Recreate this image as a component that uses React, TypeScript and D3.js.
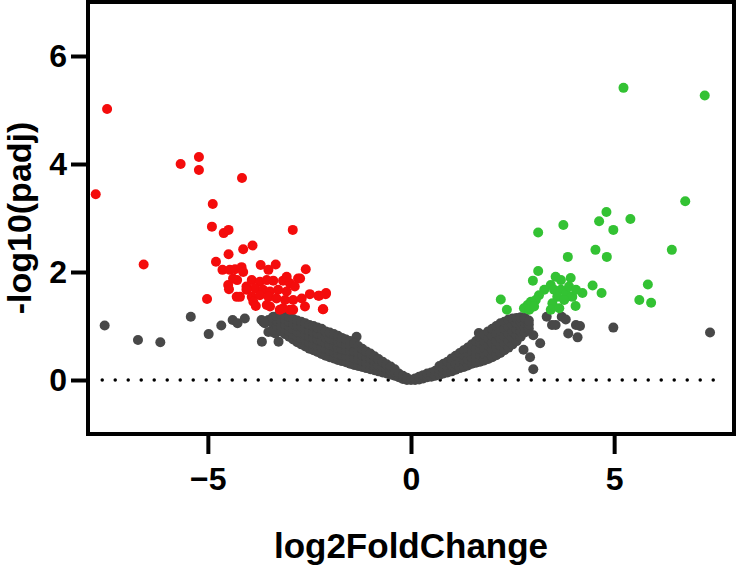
import React, { useRef, useEffect } from "react";
import { select, scaleLinear, axisBottom, axisLeft } from "d3";

// axis ticks and titles
const xTicks = [-5, 0, 5];
const yTicks = [0, 2, 4, 6];
const xTitle = "log2FoldChange";
const yTitle = "-log10(padj)";

// significantly down-regulated genes (red)
const downGenes = [
  [-7.76, 3.44], [-7.48, 5.02], [-6.58, 2.14], [-5.67, 4.0], [-5.22, 4.13], [-5.22, 3.89],
  [-4.16, 3.74], [-4.88, 3.26], [-4.9, 2.84], [-4.61, 2.72], [-4.49, 2.78], [-2.91, 2.78],
  [-3.9, 2.49], [-4.13, 2.42], [-4.49, 2.33], [-4.8, 2.19], [-2.59, 2.05], [-5.02, 1.5],
  [-2.17, 1.31], [-2.09, 1.61], [-2.26, 1.56],
  [-4.64, 2.04], [-4.46, 2.04], [-4.33, 2.05], [-4.17, 2.09], [-4.13, 2.0],
  [-3.7, 2.13], [-3.51, 2.04], [-3.33, 2.14],
  [-4.28, 1.85], [-4.5, 1.76], [-4.48, 1.68], [-4.38, 1.88], [-4.29, 1.54],
  [-3.92, 1.85], [-3.72, 1.82], [-3.55, 1.85], [-3.39, 1.84], [-3.15, 1.84], [-2.98, 1.79], [-2.78, 1.88],
  [-3.06, 1.91], [-2.73, 1.88],
  [-4.05, 1.73], [-3.84, 1.7], [-3.64, 1.67], [-3.47, 1.64], [-3.27, 1.67], [-3.06, 1.64], [-2.86, 1.73],
  [-4.05, 1.67],
  [-4.21, 1.54], [-3.92, 1.54], [-3.72, 1.57], [-3.51, 1.54], [-3.31, 1.51], [-3.1, 1.48],
  [-2.9, 1.48], [-2.69, 1.51], [-2.49, 1.59], [-2.28, 1.56], [-2.1, 1.59],
  [-3.88, 1.45], [-3.55, 1.39], [-3.23, 1.3], [-2.98, 1.3],
  [-3.82, 1.37], [-3.47, 1.36], [-3.15, 1.33], [-2.9, 1.3], [-2.61, 1.36], [-2.16, 1.31],
];

// significantly up-regulated genes (green)
const upGenes = [
  [5.23, 5.41], [7.23, 5.27], [6.75, 3.31], [4.81, 3.11], [4.63, 2.94], [5.4, 2.98],
  [4.98, 2.78], [3.75, 2.87], [3.13, 2.73], [6.42, 2.41], [4.54, 2.41], [4.82, 2.28],
  [3.86, 2.28], [5.83, 1.77], [5.62, 1.48], [5.91, 1.43], [4.47, 1.75], [4.69, 1.61],
  [3.13, 2.02], [3.0, 1.84], [3.93, 1.89], [2.21, 1.49], [2.36, 1.3], [4.05, 1.37], [4.22, 1.61],
  [3.56, 1.91], [3.69, 1.85], [3.44, 1.76], [3.28, 1.67], [3.15, 1.57], [3.07, 1.48],
  [2.95, 1.45], [2.87, 1.39], [2.78, 1.33], [2.91, 1.3], [3.03, 1.36], [3.52, 1.67],
  [3.69, 1.67], [3.82, 1.6], [3.97, 1.54], [3.89, 1.73], [4.06, 1.67], [3.6, 1.54],
  [3.48, 1.42], [3.44, 1.3], [3.65, 1.33], [3.77, 1.48],
];

// not significant genes (grey), scattered ones
const nsOutliers = [
  [-7.54, 1.01], [-6.72, 0.74], [-6.17, 0.7], [-5.42, 1.17], [-4.98, 0.85], [-4.67, 1.01],
  [-4.39, 1.11], [-4.27, 1.05], [-4.09, 1.14], [-3.67, 0.71], [-3.26, 0.71], [-3.41, 0.89],
  [-3.34, 0.86], [-3.64, 1.08], [-3.51, 1.11], [-3.39, 1.17], [-3.68, 1.11], [-3.47, 1.08],
  [-3.51, 0.89], [-3.39, 0.93], [-3.6, 1.05], [-1.34, 0.8],
  [3.34, 1.17], [3.47, 1.02], [3.56, 1.02], [3.71, 1.17], [3.81, 1.12], [3.87, 0.86],
  [4.06, 1.02], [4.16, 1.0], [4.1, 0.79], [4.98, 0.97], [7.36, 0.88], [3.18, 0.68],
  [2.93, 0.42], [3.01, 0.2], [3.01, 0.83], [2.77, 0.56], [1.67, 0.87],
];

// not significant genes (grey), dense V band: [log2FC, -log10 values at that fold change]
const nsBand = [
  [-3.4, [1.05, 1.15]],
  [-3.3, [1.0, 1.1, 1.18]],
  [-3.2, [0.9, 1.0, 1.1, 1.22]],
  [-3.1, [0.85, 0.94, 1.03, 1.12, 1.2]],
  [-3.0, [0.8, 0.9, 0.99, 1.08, 1.17]],
  [-2.9, [0.75, 0.85, 0.94, 1.04, 1.13]],
  [-2.8, [0.7, 0.8, 0.9, 1.0, 1.1]],
  [-2.7, [0.66, 0.77, 0.87, 0.98, 1.08]],
  [-2.6, [0.62, 0.73, 0.84, 0.95, 1.05]],
  [-2.5, [0.58, 0.69, 0.8, 0.91, 1.02]],
  [-2.4, [0.55, 0.66, 0.78, 0.89, 1.0]],
  [-2.3, [0.52, 0.63, 0.75, 0.86, 0.97]],
  [-2.2, [0.48, 0.6, 0.72, 0.84, 0.95]],
  [-2.1, [0.45, 0.57, 0.68, 0.79, 0.9]],
  [-2.0, [0.42, 0.54, 0.65, 0.77, 0.88]],
  [-1.9, [0.4, 0.51, 0.62, 0.74, 0.85]],
  [-1.8, [0.37, 0.48, 0.6, 0.71, 0.82]],
  [-1.7, [0.35, 0.46, 0.57, 0.68, 0.78]],
  [-1.6, [0.33, 0.44, 0.55, 0.65, 0.75]],
  [-1.5, [0.3, 0.42, 0.54, 0.63, 0.72]],
  [-1.4, [0.28, 0.4, 0.53, 0.68]],
  [-1.3, [0.26, 0.38, 0.5, 0.63]],
  [-1.2, [0.24, 0.35, 0.46, 0.58]],
  [-1.1, [0.22, 0.32, 0.43, 0.53]],
  [-1.0, [0.2, 0.3, 0.4, 0.49]],
  [-0.9, [0.18, 0.27, 0.36, 0.44]],
  [-0.8, [0.16, 0.27, 0.39]],
  [-0.7, [0.14, 0.24, 0.34]],
  [-0.6, [0.12, 0.2, 0.29]],
  [-0.5, [0.1, 0.17, 0.25]],
  [-0.4, [0.08, 0.14, 0.2]],
  [-0.3, [0.05, 0.12]],
  [-0.2, [0.02, 0.08]],
  [-0.1, [0.0, 0.04]],
  [0.0, [0.0]],
  [0.1, [0.0, 0.03]],
  [0.2, [0.01, 0.06]],
  [0.3, [0.03, 0.09]],
  [0.4, [0.05, 0.12]],
  [0.5, [0.06, 0.14]],
  [0.6, [0.08, 0.17]],
  [0.7, [0.1, 0.2, 0.26]],
  [0.8, [0.12, 0.21, 0.3]],
  [0.9, [0.14, 0.24, 0.34]],
  [1.0, [0.16, 0.28, 0.4]],
  [1.1, [0.19, 0.3, 0.45]],
  [1.2, [0.22, 0.34, 0.5]],
  [1.3, [0.24, 0.36, 0.46, 0.55]],
  [1.4, [0.27, 0.38, 0.5, 0.6]],
  [1.5, [0.3, 0.42, 0.54, 0.66]],
  [1.6, [0.32, 0.45, 0.58, 0.72]],
  [1.7, [0.34, 0.46, 0.58, 0.69, 0.8]],
  [1.8, [0.36, 0.48, 0.6, 0.72, 0.84]],
  [1.9, [0.39, 0.51, 0.64, 0.77, 0.9]],
  [2.0, [0.42, 0.55, 0.68, 0.82, 0.95]],
  [2.1, [0.46, 0.59, 0.72, 0.86, 1.0]],
  [2.2, [0.5, 0.63, 0.77, 0.91, 1.05]],
  [2.3, [0.55, 0.68, 0.81, 0.95, 1.08]],
  [2.4, [0.6, 0.73, 0.86, 0.99, 1.12]],
  [2.5, [0.66, 0.78, 0.9, 1.02, 1.14]],
  [2.6, [0.72, 0.83, 0.94, 1.05, 1.15]],
  [2.7, [0.8, 0.9, 1.0, 1.08, 1.16]],
  [2.8, [0.88, 0.97, 1.06, 1.15]],
  [2.9, [0.95, 1.03, 1.1]],
];

const FONT = "'Liberation Sans', Arial, Helvetica, sans-serif";
const W = 738;
const H = 565;

function VolcanoPlot() {
  const svgRef = useRef(null);

  useEffect(() => {
    const svg = select(svgRef.current);
    svg.selectAll("*").remove();

    const left = 88, right = 734, top = 2, bottom = 434;
    const xScale = scaleLinear().domain([-7.95, 7.95]).range([left, right]);
    const yScale = scaleLinear().domain([-1, 7]).range([bottom, top]);

    const nsGenes = nsOutliers.concat(
      nsBand.flatMap(([fc, ys]) => ys.map((v) => [fc, v]))
    );

    // dotted line at y = 0
    svg
      .append("line")
      .attr("x1", xScale(-7.6))
      .attr("x2", xScale(7.66))
      .attr("y1", yScale(0))
      .attr("y2", yScale(0))
      .attr("stroke", "#000")
      .attr("stroke-width", 3.5)
      .attr("stroke-linecap", "round")
      .attr("stroke-dasharray", "0 13");

    const groups = [
      { data: nsGenes, color: "#484848" },
      { data: downGenes, color: "#f40c0c" },
      { data: upGenes, color: "#33c233" },
    ];
    groups.forEach((g) => {
      svg
        .append("g")
        .selectAll("circle")
        .data(g.data)
        .join("circle")
        .attr("cx", (d) => xScale(d[0]))
        .attr("cy", (d) => yScale(d[1]))
        .attr("r", 5)
        .attr("fill", g.color);
    });

    // frame
    svg
      .append("rect")
      .attr("x", left)
      .attr("y", top)
      .attr("width", right - left)
      .attr("height", bottom - top)
      .attr("fill", "none")
      .attr("stroke", "#000")
      .attr("stroke-width", 4);

    const xAxis = svg
      .append("g")
      .attr("transform", `translate(0, ${bottom})`)
      .call(axisBottom(xScale).tickValues(xTicks).tickSize(20).tickPadding(13));
    const yAxis = svg
      .append("g")
      .attr("transform", `translate(${left}, 0)`)
      .call(axisLeft(yScale).tickValues(yTicks).tickSize(17).tickPadding(4));

    [xAxis, yAxis].forEach((a) => {
      a.select(".domain").remove();
      a.selectAll("line").attr("stroke", "#000").attr("stroke-width", 4);
      a.selectAll("text")
        .attr("fill", "#000")
        .style("font-family", FONT)
        .style("font-weight", "bold")
        .style("font-size", "32px");
    });

    svg
      .append("text")
      .attr("x", (left + right) / 2)
      .attr("y", 558)
      .attr("text-anchor", "middle")
      .style("font-family", FONT)
      .style("font-weight", "bold")
      .style("font-size", "35px")
      .text(xTitle);

    svg
      .append("text")
      .attr("transform", `translate(31, ${(top + bottom) / 2}) rotate(-90)`)
      .attr("text-anchor", "middle")
      .style("font-family", FONT)
      .style("font-weight", "bold")
      .style("font-size", "34px")
      .text(yTitle);
  }, []);

  return (
    <svg
      ref={svgRef}
      width={W}
      height={H}
      style={{ position: "absolute", left: 0, top: 0, background: "#fff" }}
    />
  );
}

export default function App() {
  return <VolcanoPlot />;
}
